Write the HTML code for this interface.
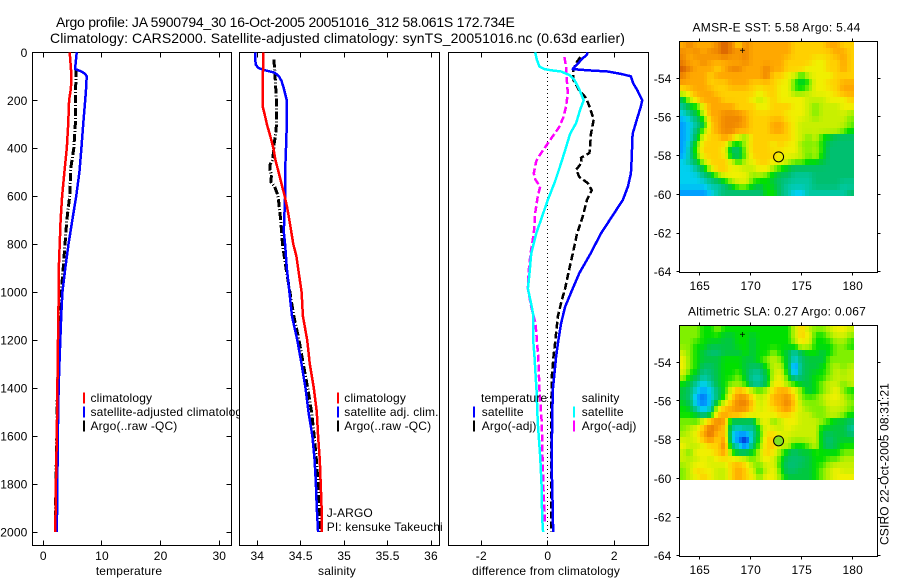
<!DOCTYPE html>
<html lang="en">
<head>
<meta charset="utf-8">
<title>Argo profile 5900794_30</title>
<style>
html,body{margin:0;padding:0;background:#fff;}
svg{display:block;font-family:"Liberation Sans",sans-serif;font-size:12px;letter-spacing:0.15px;fill:#000;}
text{fill:#000;}
</style>
</head>
<body>
<svg id="chart" xmlns="http://www.w3.org/2000/svg" width="900" height="580" viewBox="0 0 900 580">
  <rect x="0" y="0" width="900" height="580" fill="#fff"/>
  <text x="56" y="27" font-size="14" textLength="459">Argo profile: JA 5900794_30 16-Oct-2005 20051016_312 58.061S 172.734E</text>
  <text x="50" y="43" font-size="14" textLength="575">Climatology: CARS2000. Satellite-adjusted climatology: synTS_20051016.nc (0.63d earlier)</text>
  <g id="layers"></g>
  <text x="129" y="575" text-anchor="middle">temperature</text>
  <text x="337" y="575" text-anchor="middle">salinity</text>
  <text x="472" y="575" textLength="148">difference from climatology</text>
  <text x="692.5" y="31.5" textLength="168">AMSR-E SST: 5.58 Argo: 5.44</text>
  <text x="688" y="315.5" textLength="178">Altimetric SLA: 0.27 Argo: 0.067</text>
  <text transform="translate(888.5,545) rotate(-90)" textLength="162">CSIRO 22-Oct-2005 08:31:21</text>
</svg>
<script>
// ---- Axis ticks ----
const depthTicks = [0, 200, 400, 600, 800, 1000, 1200, 1400, 1600, 1800, 2000];
const temperatureTicks = [0, 10, 20, 30];
const salinityTicks = [34, 34.5, 35, 35.5, 36];
const salinityTickLabels = ['34', '34.5', '35', '35.5', '36'];
const differenceTicks = [-2, 0, 2];
const lonTicks = [165, 170, 175, 180];
const latTicks = [-54, -56, -58, -60, -62, -64];

// ---- Temperature panel ----
const tempClimDepth = [0, 100, 150, 200, 300, 400, 500, 600, 700, 800, 900, 1000, 1100, 1200, 1400, 1600, 1800, 2000];
const tempClimValue = [4.5, 4.8, 4.7, 4.4, 4.25, 4.0, 3.6, 3.2, 2.95, 2.8, 2.65, 2.65, 2.55, 2.5, 2.4, 2.3, 2.15, 2.05];
const tempSatDepth = [0, 60, 70, 80, 90, 100, 150, 200, 300, 400, 500, 600, 700, 800, 900, 1000, 1100, 1200, 1300, 1400, 1500, 1600, 1800, 2000];
const tempSatValue = [5.7, 5.45, 5.45, 6.5, 7.1, 7.4, 7.3, 7.15, 6.8, 6.5, 6.15, 5.6, 4.95, 4.3, 3.75, 3.25, 3.05, 2.9, 2.75, 2.6, 2.55, 2.45, 2.4, 2.3];
const tempArgoDepth = [70, 200, 300, 400, 450, 480, 500, 600, 700, 800, 900, 1000, 1100, 1200, 1400, 1600, 1800, 2000];
const tempArgoValue = [5.6, 5.45, 5.45, 5.2, 4.9, 4.7, 4.65, 4.5, 4.0, 3.7, 3.4, 3.05, 2.85, 2.65, 2.4, 2.3, 2.15, 2.05];

// ---- Salinity panel ----
const salClimDepth = [0, 100, 200, 230, 250, 300, 350, 400, 450, 500, 550, 600, 650, 700, 800, 850, 900, 1000, 1100, 1200, 1300, 1400, 1500, 1600, 1700, 1800, 1900, 2000];
const salClimValue = [34.07, 34.065, 34.065, 34.065, 34.08, 34.11, 34.15, 34.185, 34.21, 34.245, 34.28, 34.315, 34.345, 34.37, 34.415, 34.45, 34.47, 34.51, 34.525, 34.575, 34.605, 34.65, 34.685, 34.70, 34.72, 34.73, 34.74, 34.745];
const salSatDepth = [0, 50, 65, 75, 85, 100, 120, 150, 200, 300, 400, 500, 600, 700, 750, 800, 900, 1000, 1100, 1200, 1300, 1400, 1500, 1600, 1700, 1800, 1900, 2000];
const salSatValue = [33.975, 33.98, 34.01, 34.09, 34.2, 34.25, 34.28, 34.305, 34.34, 34.34, 34.33, 34.32, 34.32, 34.31, 34.305, 34.32, 34.34, 34.37, 34.40, 34.46, 34.51, 34.555, 34.59, 34.635, 34.66, 34.675, 34.685, 34.70];
const salArgoDepth = [30, 70, 100, 200, 300, 330, 380, 420, 450, 470, 490, 510, 540, 560, 600, 650, 700, 800, 850, 900, 1000, 1100, 1200, 1300, 1400, 1500, 1600, 1700, 1800, 1900, 2000];
const salArgoValue = [34.19, 34.2, 34.205, 34.22, 34.22, 34.215, 34.195, 34.185, 34.175, 34.145, 34.145, 34.165, 34.155, 34.2, 34.24, 34.255, 34.27, 34.29, 34.31, 34.33, 34.375, 34.42, 34.48, 34.53, 34.58, 34.625, 34.655, 34.68, 34.70, 34.715, 34.725];

// ---- Difference panel ----
const diffTempSatDepth = [0, 10, 25, 70, 75, 80, 90, 100, 130, 160, 200, 225, 270, 340, 450, 505, 560, 615, 670, 755, 840, 920, 991, 1061, 1130, 1200, 1269, 1408, 1547, 1686, 1825, 1895, 2000];
const diffTempSatValue = [1.19, 1.18, 1.05, 0.75, 1.2, 1.8, 2.2, 2.5, 2.57, 2.7, 2.84, 2.8, 2.7, 2.55, 2.52, 2.5, 2.41, 2.26, 2.0, 1.6, 1.28, 0.95, 0.73, 0.52, 0.4, 0.32, 0.25, 0.15, 0.13, 0.12, 0.13, 0.15, 0.16];
const diffTempArgoDepth = [20, 45, 70, 115, 160, 190, 225, 280, 340, 395, 420, 440, 460, 490, 520, 545, 575, 615, 685, 755, 840, 920, 985, 1033, 1102, 1200, 1269, 1352, 1547, 1825, 2000];
const diffTempArgoValue = [0.98, 0.85, 0.77, 0.77, 0.95, 1.15, 1.25, 1.38, 1.3, 1.27, 1.25, 1.0, 1.02, 0.85, 0.95, 1.2, 1.32, 1.18, 1.05, 0.88, 0.75, 0.62, 0.52, 0.42, 0.3, 0.23, 0.17, 0.12, 0.1, 0.1, 0.1];
const diffSalSatDepth = [0, 30, 60, 70, 75, 80, 95, 115, 155, 200, 240, 295, 340, 405, 475, 545, 615, 685, 755, 840, 920, 985, 1061, 1102, 1200, 1269, 1408, 1547, 1686, 1825, 1936, 2000];
const diffSalSatValue = [-0.38, -0.33, -0.25, -0.1, 0.1, 0.4, 0.65, 0.8, 0.95, 1.08, 0.97, 0.85, 0.67, 0.53, 0.37, 0.2, 0, -0.17, -0.35, -0.5, -0.55, -0.6, -0.48, -0.43, -0.44, -0.4, -0.34, -0.3, -0.23, -0.18, -0.17, -0.14];
const diffSalArgoDepth = [20, 60, 115, 170, 225, 270, 310, 350, 380, 430, 455, 505, 530, 560, 600, 670, 755, 840, 920, 985, 1061, 1130, 1269, 1408, 1547, 1686, 1825, 1964];
const diffSalArgoValue = [0.5, 0.55, 0.57, 0.6, 0.55, 0.47, 0.35, 0.15, 0, -0.25, -0.35, -0.42, -0.38, -0.23, -0.3, -0.38, -0.42, -0.52, -0.58, -0.6, -0.5, -0.37, -0.29, -0.25, -0.18, -0.16, -0.13, -0.08];

// ---- Map fields: colour-scale level per grid node, north to south, west to east ----
const sstGrid = [
[12,13,12,12,12,13,14,13,11,13,12,12,12,12,12,12,11,11,11,11,11,12,12,11,11],
[13,12,13,12,13,13,14,13,13,13,12,12,12,12,12,12,11,11,11,11,11,11,12,12,11],
[13,12,12,13,12,12,12,12,12,13,12,12,12,12,12,11,11,11,11,10,10,11,11,12,11],
[14,13,12,12,12,11,12,13,13,12,12,12,13,12,12,11,11,11,10,10,10,11,11,12,11],
[13,12,12,12,11,12,12,12,12,12,12,12,13,11,11,10,9,7,9,10,10,10,11,11,11],
[12,12,12,12,11,11,11,12,12,12,11,11,11,11,10,10,7,6,7,10,10,11,11,12,12],
[10,11,12,12,12,11,11,11,11,11,11,10,11,11,10,10,8,8,9,10,10,10,11,12,12],
[6,9,11,12,12,12,11,11,11,11,10,9,10,11,10,10,10,10,9,9,9,10,10,10,11],
[4,6,7,10,12,12,12,12,11,11,11,10,10,11,11,11,10,10,9,8,9,9,9,10,10],
[3,4,6,9,12,12,13,13,13,12,11,11,11,11,11,10,10,10,9,8,9,9,9,9,8],
[2,3,4,6,11,12,13,13,13,12,11,11,11,12,12,11,10,9,9,9,9,9,9,9,8],
[2,3,5,8,11,12,13,13,12,12,11,11,11,12,12,11,10,9,9,9,9,9,9,8,7],
[2,3,6,10,11,11,12,11,9,8,11,11,11,11,11,11,10,9,8,9,7,6,5,5,5],
[2,4,8,11,11,11,10,6,6,9,11,11,11,10,11,10,10,8,8,8,7,5,5,5,5],
[2,4,8,11,11,11,10,5,5,8,11,11,11,11,10,10,10,9,8,9,7,5,5,5,5],
[3,4,6,9,11,11,11,9,7,9,10,11,11,10,10,9,8,8,7,7,6,5,5,5,5],
[3,3,4,6,9,11,11,10,10,9,9,10,10,8,7,6,5,5,5,5,5,5,5,5,5],
[3,3,3,4,5,7,9,10,10,10,8,8,7,6,5,5,4,4,4,5,5,5,5,5,5],
[3,3,3,3,4,4,5,7,9,9,7,6,7,6,5,4,4,4,4,5,5,5,5,4,4],
[2,2,2,2,3,4,5,5,5,5,5,5,7,7,5,4,3,3,4,4,4,4,4,4,5]
];
const slaGrid = [
[8,8,8,7,7,8,7,7,7,7,7,7,7,7,7,7,9,11,9,8,8,9,10,10,9],
[8,8,8,7,7,7,6,6,7,7,6,7,7,7,7,7,9,11,10,7,7,8,9,9,8],
[8,8,7,7,6,6,6,6,7,7,6,7,7,7,7,7,8,10,9,7,7,7,8,8,7],
[9,8,7,6,5,5,6,6,6,7,6,7,7,8,7,6,4,6,7,7,6,7,8,8,8],
[10,8,7,6,6,6,7,7,7,6,6,7,8,9,8,6,3,5,6,6,6,8,8,8,8],
[10,8,7,5,5,6,7,7,7,6,5,5,7,9,9,6,1,5,6,6,7,8,9,8,9],
[9,7,6,4,5,6,7,7,8,6,4,4,6,9,10,7,3,5,6,7,7,8,9,9,9],
[7,6,4,3,4,6,7,8,8,7,4,4,6,10,10,8,7,6,6,7,8,9,9,8,9],
[6,5,3,2,3,5,7,10,12,11,9,8,9,11,12,12,10,8,6,7,8,9,10,8,7],
[6,5,2,1,3,5,8,11,13,13,11,9,10,12,12,13,11,8,8,8,9,10,10,9,8],
[7,6,3,2,3,9,11,12,13,13,11,9,10,11,12,13,11,9,8,8,8,9,9,9,8],
[7,7,6,4,6,11,12,12,12,11,10,10,10,10,11,11,10,9,9,8,8,9,9,8,7],
[8,8,8,10,12,13,12,5,5,5,5,9,10,8,9,10,10,9,9,9,8,7,6,6,5],
[8,9,10,12,14,12,11,4,3,4,4,7,10,10,9,10,9,9,9,9,6,6,6,6,4],
[9,9,10,12,13,11,12,3,1,0,4,7,11,11,10,9,9,9,9,9,6,5,6,6,6],
[10,9,9,10,11,11,13,5,3,1,5,8,11,11,9,9,7,7,8,9,6,5,6,7,7],
[9,8,10,10,10,11,12,8,6,6,7,9,11,10,8,6,5,6,6,7,7,7,7,8,8],
[9,9,9,10,9,10,10,11,11,10,8,9,10,9,7,5,5,5,6,7,7,8,8,9,9],
[8,9,11,10,10,9,9,11,12,11,9,7,9,10,7,5,5,6,6,7,8,9,10,9,9],
[8,9,10,11,10,9,9,11,12,11,10,8,10,10,8,6,6,6,6,7,8,9,10,10,10]
];
const argoLon = [172.734];
const argoLat = [-58.061];
const starLon = [169.2];
const starLat = [-52.55];

// ---- Drawing ----
const palette = [[0,32,192],[0,96,240],[0,160,255],[0,208,240],[0,200,160],[0,192,112],[0,200,64],[0,224,0],[128,240,0],[200,240,0],[240,240,0],[255,208,0],[255,168,0],[240,136,0],[216,96,0]];
function levelColor(v) {
  const i = Math.max(0, Math.min(palette.length - 2, Math.floor(v)));
  const f = Math.max(0, Math.min(1, v - i));
  const c = palette[i].map((p, k) => Math.round(p + (palette[i + 1][k] - p) * f));
  return 'rgb(' + c.join(',') + ')';
}
function sampleGrid(grid, r, c) {
  const rows = grid.length, cols = grid[0].length;
  const rr = Math.max(0, Math.min(rows - 1, r)), cc = Math.max(0, Math.min(cols - 1, c));
  const r0 = Math.floor(rr), c0 = Math.floor(cc);
  const r1 = Math.min(rows - 1, r0 + 1), c1 = Math.min(cols - 1, c0 + 1);
  const fr = rr - r0, fc = cc - c0;
  return (grid[r0][c0] * (1 - fc) + grid[r0][c1] * fc) * (1 - fr) + (grid[r1][c0] * (1 - fc) + grid[r1][c1] * fc) * fr;
}
const NS = 'http://www.w3.org/2000/svg';
const root = document.getElementById('layers');
function make(tag, parent, attrs) {
  const el = document.createElementNS(NS, tag);
  for (const k in attrs) el.setAttribute(k, attrs[k]);
  parent.appendChild(el);
  return el;
}
function linear(d0, d1, r0, r1) {
  return v => r0 + (v - d0) * (r1 - r0) / (d1 - d0);
}
function tickLine(parent, x1, y1, x2, y2) {
  const el = make('line', parent, {x1: x1, y1: y1, x2: x2, y2: y2, stroke: '#000', 'stroke-width': 1, 'shape-rendering': 'crispEdges'});
  
  
}
function label(parent, x, y, anchor, str) {
  const el = make('text', parent, {x: x, y: y, 'text-anchor': anchor});
  el.textContent = str;
  
  
}
function series(parent, xs, depths, values, yS, color, dash, width) {
  const pts = depths.map((d, i) => xs(values[i]).toFixed(1) + ',' + yS(d).toFixed(1)).join(' ');
  const attrs = {points: pts, fill: 'none', stroke: color, 'stroke-width': width || 2.5, 'shape-rendering': 'crispEdges', 'stroke-linejoin': 'round'};
  if (dash) attrs['stroke-dasharray'] = dash;
  const el = make('polyline', parent, attrs);
  
  
}
function legendRow(parent, barX, textX, cy, color, str) {
  if (color) {
    const bar = make('rect', parent, {x: barX, y: cy - 5.5, width: 2, height: 11, fill: color, 'shape-rendering': 'crispEdges'});
    
    
  }
  const t = make('text', parent, {x: textX, y: cy + 4});
  t.textContent = str;
  
  
}
const yDepth = linear(0, 2000, 52.3, 532);

function panel(name, left, right, xS, xTicks, xLabels, showDepth) {
  const g = make('g', root, {});
  
  
  const bg = make('rect', g, {x: left, y: 52.5, width: right - left, height: 493, fill: '#fff', stroke: '#000', 'stroke-width': 1, 'shape-rendering': 'crispEdges'});
  
  
  xTicks.forEach((t, i) => {
    const x = Math.floor(xS(t)) + 0.5;
    tickLine(g, x, 52.5, x, 57.5);
    tickLine(g, x, 540.5, x, 545.5);
    label(g, xS(t), 560, 'middle', xLabels[i]);
  });
  if (showDepth) {
    depthTicks.forEach(d => {
      const y = Math.floor(yDepth(d)) + 0.5;
      if (d > 0) tickLine(g, left, y, left + 5, y);
      if (d > 0) tickLine(g, right - 5, y, right, y);
      label(g, 27.5, yDepth(d) + 4.5, 'end', String(d));
    });
  }
  return g;
}

// Temperature panel
const xTemp = linear(0, 30, 43.3, 219.3);
const p1 = panel('temperature-panel', 32.5, 231.5, xTemp, temperatureTicks, temperatureTicks.map(String), true);
series(p1, xTemp, tempArgoDepth, tempArgoValue, yDepth, '#000', '8 2 1 2', 3);
series(p1, xTemp, tempSatDepth, tempSatValue, yDepth, '#00f');
series(p1, xTemp, tempClimDepth, tempClimValue, yDepth, '#f00');
legendRow(p1, 83, 90.5, 398, '#f00', 'climatology');
legendRow(p1, 83, 90.5, 412, '#00f', 'satellite-adjusted climatology');
legendRow(p1, 83, 90.5, 426, '#000', 'Argo(..raw -QC)');

// Salinity panel
const xSal = linear(34, 36, 257.3, 431);
const p2 = panel('salinity-panel', 239.5, 439.5, xSal, salinityTicks, salinityTickLabels, false);
series(p2, xSal, salArgoDepth, salArgoValue, yDepth, '#000', '8 2 1 2', 3);
series(p2, xSal, salSatDepth, salSatValue, yDepth, '#00f');
series(p2, xSal, salClimDepth, salClimValue, yDepth, '#f00');
legendRow(p2, 337, 344.3, 398, '#f00', 'climatology');
legendRow(p2, 337, 344.3, 412, '#00f', 'satellite adj. clim.');
legendRow(p2, 337, 344.3, 426, '#000', 'Argo(..raw -QC)');
legendRow(p2, 0, 326.7, 513, null, 'J-ARGO');
legendRow(p2, 0, 326.7, 527, null, 'PI: kensuke Takeuchi');

// Difference panel
const xDiff = linear(-2, 2, 481.3, 614.3);
const p3 = panel('difference-panel', 448.5, 648.5, xDiff, differenceTicks, differenceTicks.map(v => v === -2 ? '-2' : String(v)), false);
const zeroX = Math.floor(xDiff(0)) + 0.5;
const zeroLine = make('line', p3, {x1: zeroX, y1: 53, x2: zeroX, y2: 545, stroke: '#000', 'stroke-width': 1, 'stroke-dasharray': '1 3', 'shape-rendering': 'crispEdges'});


series(p3, xDiff, diffTempArgoDepth, diffTempArgoValue, yDepth, '#000', '7 3');
series(p3, xDiff, diffTempSatDepth, diffTempSatValue, yDepth, '#00f');
series(p3, xDiff, diffSalArgoDepth, diffSalArgoValue, yDepth, '#f0f', '7 3');
series(p3, xDiff, diffSalSatDepth, diffSalSatValue, yDepth, '#0ff');
legendRow(p3, 0, 481, 398, null, 'temperature');
legendRow(p3, 473, 481.7, 412, '#00f', 'satellite');
legendRow(p3, 473, 481.7, 426, '#000', 'Argo(-adj)');
legendRow(p3, 0, 581.7, 398, null, 'salinity');
legendRow(p3, 573, 581.7, 412, '#0ff', 'satellite');
legendRow(p3, 573, 581.7, 426, '#f0f', 'Argo(-adj)');

// Maps: each coarse grid node is shaded smoothly across finer display cells
const xLon = linear(165, 180, 699.7, 852.7);
function mapPanel(name, grid, top, bottom, lat54Y, markerFill) {
  const g = make('g', root, {});
  
  
  const yLat = linear(-54, -64, lat54Y, lat54Y + 193.4);
  const lonW = 163, lonE = 180.17, latN = -52.1, latS = -60.1;
  const rows = grid.length, cols = grid[0].length;
  const subCols = cols * 2, subRows = rows + rows / 4;
  const dLon = (lonE - lonW) / subCols, dLat = (latN - latS) / subRows;
  for (let j = 0; j < subRows; j++) {
    for (let i = 0; i < subCols; i++) {
      const x0 = Math.round(xLon(lonW + i * dLon)), x1 = Math.round(xLon(lonW + (i + 1) * dLon));
      const y0 = Math.round(yLat(latN - j * dLat)), y1 = Math.round(yLat(latN - (j + 1) * dLat));
      const v = sampleGrid(grid, (j + 0.5) / subRows * rows - 0.5, (i + 0.5) / subCols * cols - 0.5);
      const c = make('rect', g, {x: x0, y: y0, width: x1 - x0, height: y1 - y0, fill: levelColor(v), 'shape-rendering': 'crispEdges'});
      
      
    }
  }
  const frame = make('rect', g, {x: 679.5, y: top, width: 198, height: bottom - top, fill: 'none', stroke: '#000', 'stroke-width': 1, 'shape-rendering': 'crispEdges'});
  
  
  lonTicks.forEach(t => {
    const x = Math.floor(xLon(t)) + 0.5;
    tickLine(g, x, top - 3, x, top);
    tickLine(g, x, bottom, x, bottom + 3);
    label(g, xLon(t), bottom + 17.5, 'middle', String(t));
  });
  latTicks.forEach(t => {
    const y = Math.floor(yLat(t)) + 0.5;
    tickLine(g, 676.5, y, 679.5, y);
    tickLine(g, 877.5, y, 880.5, y);
    label(g, 671.5, yLat(t) + 4.5, 'end', String(t));
  });
  const star = make('text', g, {x: xLon(starLon[0]), y: yLat(starLat[0]) + 3.5, 'text-anchor': 'middle', 'font-size': 10});
  star.textContent = '+';
  
  
  const dot = make('circle', g, {cx: xLon(argoLon[0]), cy: yLat(argoLat[0]), r: 5, fill: markerFill, stroke: '#000', 'stroke-width': 1});
  
  
}
mapPanel('sst-map', sstGrid, 41.5, 272.5, 78.3, 'none');
mapPanel('sla-map', slaGrid, 325.5, 556.5, 362.3, '#80e020');
</script>
</body>
</html>
